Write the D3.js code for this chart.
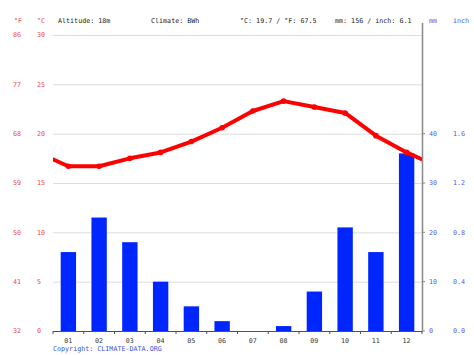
<!DOCTYPE html>
<html><head><meta charset="utf-8">
<script src="https://cdn.jsdelivr.net/npm/d3@7"></script>
<style>body{margin:0;background:#fff}svg{display:block}text{font-family:"DejaVu Sans Mono","Liberation Mono",monospace;}</style>
</head><body>
<svg id="c" width="474" height="355"></svg>
<script>
const months = ["01","02","03","04","05","06","07","08","09","10","11","12"];
const tempC = [16.7,16.7,17.5,18.1,19.2,20.6,22.3,23.3,22.7,22.1,19.8,18.1];
const precipMM = [16,23,18,10,5,2,0,1,8,21,16,36];
const cTicks = [0,5,10,15,20,25,30];
const fTicks = ["32","41","50","59","68","77","86"];
const mmTicks = [0,10,20,30,40];
const inchTicks = ["0.0","0.4","0.8","1.2","1.6"];
const header = {altitude:"Altitude: 18m", climate:"Climate: BWh", temp:"°C: 19.7 / °F: 67.5", rain:"mm: 156 / inch: 6.1"};

const svg = d3.select("#c");
const L=53, R=422, T=35, B=331;
const x = d3.scaleBand().domain(months).range([L,R]);
const yC = d3.scaleLinear().domain([0,30]).range([B,T]);
const yMM = d3.scaleLinear().domain([0,60]).range([B,T]);
const fs = "6.7px";
const red="#e8474a", blue="#4b5be6";

// gridlines
svg.append("g").selectAll("line").data(cTicks).join("line")
  .attr("x1",L).attr("x2",R).attr("y1",d=>yC(d)+0.5).attr("y2",d=>yC(d)+0.5)
  .attr("stroke","#dcdcdc").attr("stroke-width",1);

// left labels
svg.append("g").selectAll("text").data(cTicks).join("text")
  .attr("x",37).attr("y",d=>yC(d)).attr("dy","0.35em").attr("fill",red).style("font-size",fs).text(d=>d);
svg.append("g").selectAll("text").data(fTicks).join("text")
  .attr("x",13).attr("y",(d,i)=>yC(cTicks[i])).attr("dy","0.35em").attr("fill",red).style("font-size",fs).text(d=>d);

// right labels
svg.append("g").selectAll("text").data(mmTicks).join("text")
  .attr("x",429).attr("y",d=>yMM(d)).attr("dy","0.35em").attr("fill",blue).style("font-size",fs).text(d=>d);
svg.append("g").selectAll("text").data(inchTicks).join("text")
  .attr("x",453).attr("y",(d,i)=>yMM(mmTicks[i])).attr("dy","0.35em").attr("fill",blue).style("font-size",fs).text(d=>d);
svg.append("g").selectAll("line").data(mmTicks).join("line")
  .attr("x1",R).attr("x2",R+3).attr("y1",d=>yMM(d)).attr("y2",d=>yMM(d)).attr("stroke","#888");

// bars
const bw = x.bandwidth()*0.5;
svg.append("g").selectAll("rect").data(precipMM).join("rect")
  .attr("x",(d,i)=>x(months[i])+x.bandwidth()/2-bw/2)
  .attr("width",bw)
  .attr("y",d=>yMM(d)).attr("height",d=>B-yMM(d))
  .attr("fill","#0026ff");

// temperature line, wrapped at edges and clipped to plot
svg.append("clipPath").attr("id","clip").append("rect").attr("x",L).attr("y",0).attr("width",R-L).attr("height",B);
const step = x.step();
const cx = i => x(months[0]) + x.bandwidth()/2 + i*step;
const pts = [[cx(-1), tempC[11]]].concat(tempC.map((t,i)=>[cx(i),t])).concat([[cx(12), tempC[0]]]);
svg.append("path").attr("clip-path","url(#clip)")
  .attr("d", d3.line().x(d=>d[0]).y(d=>yC(d[1]))(pts))
  .attr("fill","none").attr("stroke","#f00").attr("stroke-width",4).attr("stroke-linejoin","round");
svg.append("g").selectAll("circle").data(tempC).join("circle")
  .attr("cx",(d,i)=>cx(i)).attr("cy",d=>yC(d)).attr("r",2.8).attr("fill","#f00");

// right axis line
svg.append("line").attr("x1",R+0.5).attr("x2",R+0.5).attr("y1",23).attr("y2",B).attr("stroke","#888").attr("stroke-width",1.5);

// bottom axis
svg.append("line").attr("x1",L).attr("x2",R).attr("y1",B+0.5).attr("y2",B+0.5).attr("stroke","#4a4f66").attr("stroke-width",1.2);
const bounds = months.map(m=>x(m)).concat([R]);
svg.append("g").selectAll("line").data(bounds).join("line")
  .attr("x1",d=>d).attr("x2",d=>d).attr("y1",B).attr("y2",B+3).attr("stroke","#4a4f66");
svg.append("g").selectAll("text").data(months).join("text")
  .attr("x",d=>x(d)+x.bandwidth()/2).attr("y",341).attr("dy","0.35em").attr("text-anchor","middle")
  .attr("fill","#333").style("font-size",fs).text(d=>d);

// header
svg.append("text").attr("x",14).attr("y",21).attr("dy","0.35em").attr("fill",red).style("font-size",fs).text("°F");
svg.append("text").attr("x",37).attr("y",21).attr("dy","0.35em").attr("fill",red).style("font-size",fs).text("°C");
svg.append("text").attr("x",58).attr("y",21).attr("dy","0.35em").attr("fill","#222").style("font-size",fs).text(header.altitude);
svg.append("text").attr("x",151).attr("y",21).attr("dy","0.35em").attr("fill","#222").style("font-size",fs).text(header.climate);
svg.append("text").attr("x",240).attr("y",21).attr("dy","0.35em").attr("fill","#222").style("font-size",fs).text(header.temp);
svg.append("text").attr("x",335).attr("y",21).attr("dy","0.35em").attr("fill","#222").style("font-size",fs).text(header.rain);
svg.append("text").attr("x",429).attr("y",21).attr("dy","0.35em").attr("fill",blue).style("font-size",fs).text("mm");
svg.append("text").attr("x",453).attr("y",21).attr("dy","0.35em").attr("fill",blue).style("font-size",fs).text("inch");

svg.append("text").attr("x",53).attr("y",349).attr("dy","0.35em").attr("fill","#3650e0").style("font-size",fs).text("Copyright: CLIMATE-DATA.ORG");
</script>
</body></html>
